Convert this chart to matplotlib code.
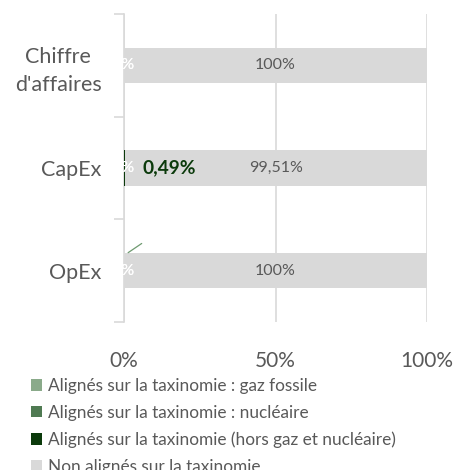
import matplotlib
matplotlib.use("Agg")
import matplotlib.pyplot as plt
from matplotlib.patches import Patch
import numpy as np

categories = ["Chiffre\nd'affaires", "CapEx", "OpEx"]
series_names = [
    "Alignés sur la taxinomie : gaz fossile",
    "Alignés sur la taxinomie : nucléaire",
    "Alignés sur la taxinomie (hors gaz et nucléaire)",
    "Non alignés sur la taxinomie",
]
gaz_fossile = [0.0, 0.0, 0.0]
nucleaire = [0.0, 0.0, 0.0]
hors_gaz = [0.0, 0.49, 0.0]
non_alignes = [100.0, 99.51, 100.0]
xticks = [0, 50, 100]
xtick_labels = ["0%", "50%", "100%"]

colors = ["#8AAA8A", "#4F7A52", "#0B3A0B", "#D9D9D9"]
text_gray = "#595959"

plt.rcParams['font.family'] = ['Lato', 'DejaVu Sans']

fig = plt.figure(figsize=(4.53, 4.70), dpi=100)
ax = fig.add_axes([124/453, 1-322/470, (427-124)/453, 308/470])

y = np.arange(len(categories))
series = [gaz_fossile, nucleaire, hors_gaz, non_alignes]
left = np.zeros(len(categories))
for vals, col in zip(series, colors):
    ax.barh(y, vals, left=left, height=0.345, color=col, zorder=3)
    left = left + np.array(vals)

def fmt(v):
    if v == int(v):
        return f"{int(v)}%"
    return f"{v:.2f}%".replace(".", ",")

for i in range(len(categories)):
    for vals in (gaz_fossile, nucleaire):
        ax.text(vals[i] / 2, y[i], fmt(vals[i]), color="white", ha="center",
                va="center", fontsize=11.5, zorder=4)
    start = gaz_fossile[i] + nucleaire[i] + hors_gaz[i]
    ax.text(start + non_alignes[i] / 2, y[i], fmt(non_alignes[i]), color=text_gray,
            ha="center", va="center", fontsize=11.5, zorder=4)
    if hors_gaz[i] > 0:
        ax.text(hors_gaz[i] + 5.7, y[i], fmt(hors_gaz[i]), color="#0B3A0B",
                ha="left", va="center", fontsize=13.8, fontweight="bold", zorder=4)

# leader line on OpEx
ax.annotate("", xy=(0.6, y[2] - 0.16), xytext=(6.6, y[2] - 0.28),
            arrowprops=dict(arrowstyle="-", color="#6E9A70", lw=0.9), zorder=5)

ax.set_xlim(0, 100)
ax.set_ylim(len(categories) - 0.5, -0.5)
ax.set_xticks(xticks)
ax.set_xticklabels(xtick_labels, fontsize=15, color=text_gray)
ax.tick_params(axis="x", length=0, pad=21)
ax.grid(axis="x", color="#D9D9D9", lw=1.2, zorder=0)

ax.set_yticks(y)
ax.set_yticklabels(categories, fontsize=15.5, color=text_gray, ha="right",
                   multialignment="center", linespacing=1.5)
ax.tick_params(axis="y", which="major", length=0, pad=16)
ax.set_yticks(np.arange(-0.5, len(categories)), minor=True)
ax.tick_params(axis="y", which="minor", length=7, color="#D9D9D9", width=1.2)

for s in ["top", "right", "bottom"]:
    ax.spines[s].set_visible(False)
ax.spines["left"].set_color("#D9D9D9")
ax.spines["left"].set_linewidth(1.2)

handles = [Patch(facecolor=c, edgecolor="none") for c in colors]
fig.legend(handles, series_names, loc="upper left", bbox_to_anchor=(31/453, 1-378/470),
           frameon=False, fontsize=12.4, labelcolor=text_gray, handlelength=0.65,
           handleheight=0.65, handletextpad=0.35, labelspacing=0.62, borderaxespad=0,
           borderpad=0)

fig.savefig("out.png", dpi=100)
